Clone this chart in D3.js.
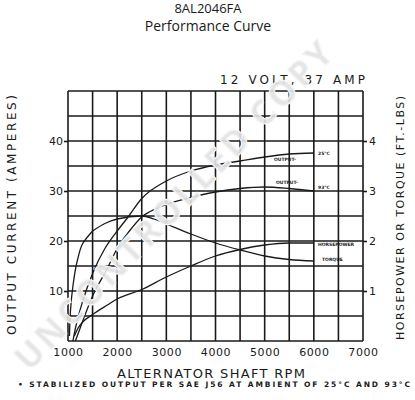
<!DOCTYPE html>
<html><head><meta charset="utf-8">
<script src="https://cdn.jsdelivr.net/npm/d3@7"></script>
<style>
html,body{margin:0;padding:0;background:#fff;}
svg{display:block;}
text{font-family:"DejaVu Sans",sans-serif;}
</style></head>
<body>
<svg id="chart" width="415" height="400"></svg>
<script>
// ---- data ----
const xTicks = [1000, 2000, 3000, 4000, 5000, 6000, 7000];
const yLeftTicks = [10, 20, 30, 40];
const yRightTicks = [1, 2, 3, 4];

const rpm25 = [1100, 1150, 1300, 1500, 1750, 2000, 2200, 2500, 3000, 3500, 4000, 4500, 5000, 5500, 6000];
const output25 = [0, 2.5, 8, 13.5, 18.5, 22, 24.5, 28.5, 32, 34, 35.2, 36, 36.8, 37.4, 37.6];

const rpm93 = [1150, 1300, 1500, 1800, 2000, 2250, 2500, 2800, 3000, 3500, 4000, 4500, 5000, 5500, 6000];
const output93 = [0, 4, 9, 14.5, 18.5, 22, 24.8, 26.5, 27.3, 28.7, 29.8, 30.5, 30.8, 30.5, 30];

const rpmTq = [1030, 1050, 1100, 1200, 1300, 1500, 1750, 2000, 2500, 2750, 3000, 3500, 4000, 4500, 5000, 5500, 6000];
const torque = [0.1, 0.6, 1.1, 1.65, 1.95, 2.2, 2.35, 2.44, 2.5, 2.44, 2.34, 2.14, 1.96, 1.82, 1.70, 1.63, 1.60];

const rpmHp = [1130, 1200, 1300, 1500, 1800, 2000, 2500, 3000, 3500, 4000, 4500, 5000, 5500, 6000];
const horsepower = [0.1, 0.25, 0.38, 0.53, 0.72, 0.84, 1.03, 1.28, 1.50, 1.70, 1.83, 1.92, 1.96, 1.96];

// ---- layout ----
const svg = d3.select("#chart");
const ink = "#1a1a1a";
const L = 68, R = 363, T = 91, B = 341;
const x = d3.scaleLinear().domain([1000, 7000]).range([L, R]);
const y = d3.scaleLinear().domain([0, 50]).range([B, T]);
const y2 = d3.scaleLinear().domain([0, 5]).range([B, T]);

// titles
svg.append("text").attr("x", 208).attr("y", 13).attr("text-anchor", "middle").attr("fill", ink)
  .style("font-family", "'Open Sans',sans-serif").style("font-size", "13px").text("8AL2046FA");
svg.append("text").attr("x", 208).attr("y", 31).attr("text-anchor", "middle").attr("fill", ink)
  .style("font-family", "'Open Sans',sans-serif").style("font-size", "14px").text("Performance Curve");
svg.append("text").attr("x", 220).attr("y", 84).attr("textLength", 145).attr("lengthAdjust", "spacing")
  .attr("fill", ink).style("font-size", "12px").text("12 VOLT, 37 AMP");

// grid
const gGrid = svg.append("g").attr("stroke", ink).attr("stroke-width", 1.6);
d3.range(1000, 7001, 500).forEach(v => {
  gGrid.append("line").attr("x1", x(v)).attr("x2", x(v)).attr("y1", T).attr("y2", B);
});
d3.range(0, 51, 5).forEach(v => {
  gGrid.append("line").attr("x1", L).attr("x2", R).attr("y1", y(v)).attr("y2", y(v));
});

// axes labels via d3 axes
const axB = svg.append("g").attr("transform", `translate(0,${B})`)
  .call(d3.axisBottom(x).tickValues(xTicks).tickSize(0).tickPadding(7).tickFormat(d3.format("d")));
const axL = svg.append("g").attr("transform", `translate(${L},0)`)
  .call(d3.axisLeft(y).tickValues(yLeftTicks).tickSize(4).tickPadding(1).tickFormat(d3.format("d")));
const axR = svg.append("g").attr("transform", `translate(${R},0)`)
  .call(d3.axisRight(y2).tickValues(yRightTicks).tickSize(4).tickPadding(2).tickFormat(d3.format("d")));
[axB, axL, axR].forEach(a => {
  a.select(".domain").remove();
  a.selectAll(".tick line").attr("stroke", ink).attr("stroke-width", 1.6);
  a.selectAll("text").style("font-family", "'DejaVu Sans',sans-serif").style("font-size", "11px").attr("fill", ink);
});
axB.selectAll("text").attr("letter-spacing", "0.6");

// axis titles
svg.append("text").attr("transform", "translate(16,215) rotate(-90)").attr("text-anchor", "middle")
  .attr("textLength", 240).attr("lengthAdjust", "spacing").attr("fill", ink)
  .style("font-size", "12px").text("OUTPUT CURRENT (AMPERES)");
svg.append("text").attr("transform", "translate(404,218) rotate(-90)").attr("text-anchor", "middle")
  .attr("textLength", 244).attr("lengthAdjust", "spacing").attr("fill", ink)
  .style("font-size", "11px").text("HORSEPOWER OR TORQUE (FT.-LBS)");
svg.append("text").attr("x", 117).attr("y", 378).attr("textLength", 188).attr("lengthAdjust", "spacing")
  .attr("fill", ink).style("font-size", "13px").text("ALTERNATOR SHAFT RPM");
svg.append("text").attr("x", 18).attr("y", 387).attr("textLength", 392).attr("lengthAdjust", "spacing")
  .attr("fill", ink).style("font-size", "7.5px").style("font-weight", "bold")
  .text("• STABILIZED OUTPUT PER SAE J56 AT AMBIENT OF 25°C AND 93°C");

// curves
const lineL = d3.line().x(d => x(d[0])).y(d => y(d[1])).curve(d3.curveMonotoneX);
const lineR = d3.line().x(d => x(d[0])).y(d => y2(d[1])).curve(d3.curveMonotoneX);
const gC = svg.append("g").attr("fill", "none").attr("stroke", ink).attr("stroke-width", 1.3);
gC.append("path").attr("d", lineL(d3.zip(rpm25, output25)));
gC.append("path").attr("d", lineL(d3.zip(rpm93, output93)));
gC.append("path").attr("d", d3.line().x(d => x(d[0])).y(d => y2(d[1])).curve(d3.curveMonotoneY)(d3.zip(rpmTq, torque).slice(0, 6)));
gC.append("path").attr("d", lineR(d3.zip(rpmTq, torque).slice(5)));
gC.append("path").attr("d", lineR(d3.zip(rpmHp, horsepower)));

// curve labels
const lab = (tx, ty, s) => svg.append("text").attr("x", tx).attr("y", ty).attr("fill", ink)
  .style("font-size", "4.5px").style("font-weight", "bold").text(s);
lab(274, 161, "OUTPUT-");
lab(318, 155, "25°C");
lab(276, 184, "OUTPUT-");
lab(318, 189, "93°C");
lab(318, 246, "HORSEPOWER");
lab(322, 261, "TORQUE");

// watermark
svg.append("text").attr("transform", "translate(182,214) rotate(-46)").attr("text-anchor", "middle")
  .attr("textLength", 440).attr("lengthAdjust", "spacing")
  .style("font-family", "'Open Sans',sans-serif").style("font-weight", "bold").style("font-size", "34px")
  .style("fill", "#e3e3e3").style("fill-opacity", 0.92)
  .style("stroke", "#f4f4f4").style("stroke-width", 1.2)
  .text("UNCONTROLLED COPY");
</script>
</body></html>
